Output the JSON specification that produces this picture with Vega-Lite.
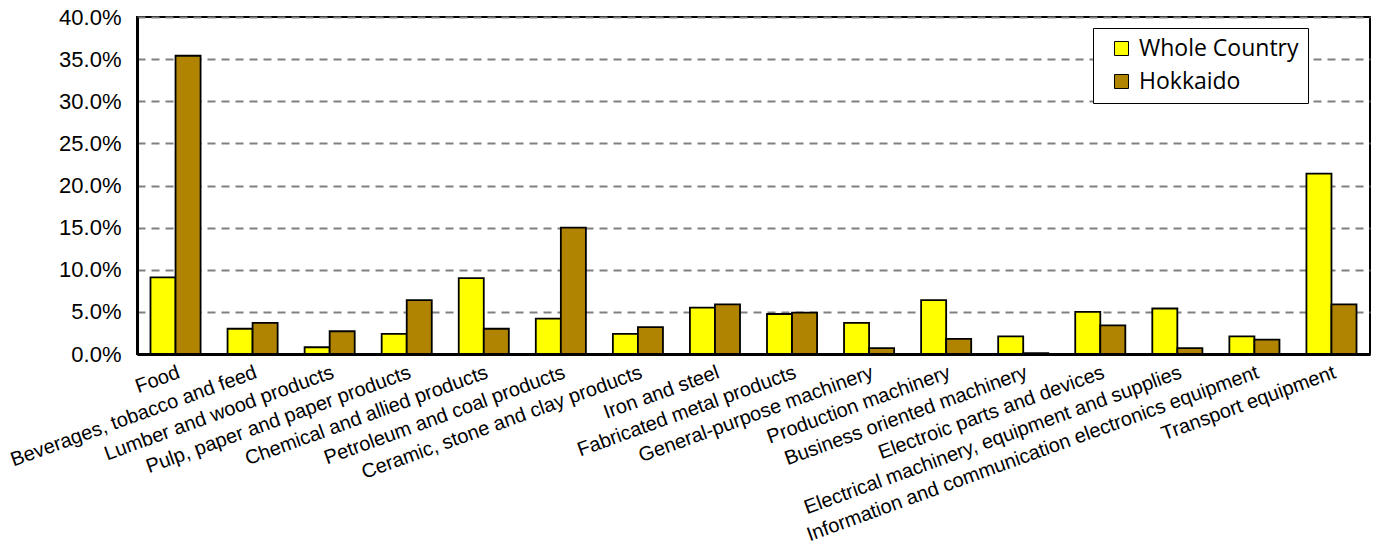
{
  "$schema": "https://vega.github.io/schema/vega-lite/v6.json",
  "width": 1233,
  "height": 337,
  "autosize": {"type": "none"},
  "padding": {"left": 137, "top": 17, "right": 11, "bottom": 195},
  "background": "white",
  "config": {
    "view": {"stroke": "black", "strokeWidth": 2},
    "font": "Liberation Sans"
  },
  "data": {
    "values": [
      {"industry": "Food", "region": "Whole Country", "share": 0.091},
      {"industry": "Food", "region": "Hokkaido", "share": 0.354},
      {"industry": "Beverages, tobacco and feed", "region": "Whole Country", "share": 0.030},
      {"industry": "Beverages, tobacco and feed", "region": "Hokkaido", "share": 0.037},
      {"industry": "Lumber and wood products", "region": "Whole Country", "share": 0.008},
      {"industry": "Lumber and wood products", "region": "Hokkaido", "share": 0.027},
      {"industry": "Pulp, paper and paper products", "region": "Whole Country", "share": 0.024},
      {"industry": "Pulp, paper and paper products", "region": "Hokkaido", "share": 0.064},
      {"industry": "Chemical and allied products", "region": "Whole Country", "share": 0.090},
      {"industry": "Chemical and allied products", "region": "Hokkaido", "share": 0.030},
      {"industry": "Petroleum and coal products", "region": "Whole Country", "share": 0.042},
      {"industry": "Petroleum and coal products", "region": "Hokkaido", "share": 0.150},
      {"industry": "Ceramic, stone and clay products", "region": "Whole Country", "share": 0.024},
      {"industry": "Ceramic, stone and clay products", "region": "Hokkaido", "share": 0.032},
      {"industry": "Iron and steel", "region": "Whole Country", "share": 0.055},
      {"industry": "Iron and steel", "region": "Hokkaido", "share": 0.059},
      {"industry": "Fabricated metal products", "region": "Whole Country", "share": 0.0475},
      {"industry": "Fabricated metal products", "region": "Hokkaido", "share": 0.049},
      {"industry": "General-purpose machinery", "region": "Whole Country", "share": 0.037},
      {"industry": "General-purpose machinery", "region": "Hokkaido", "share": 0.007},
      {"industry": "Production machinery", "region": "Whole Country", "share": 0.064},
      {"industry": "Production machinery", "region": "Hokkaido", "share": 0.018},
      {"industry": "Business oriented machinery", "region": "Whole Country", "share": 0.021},
      {"industry": "Business oriented machinery", "region": "Hokkaido", "share": 0.001},
      {"industry": "Electroic parts and devices", "region": "Whole Country", "share": 0.050},
      {"industry": "Electroic parts and devices", "region": "Hokkaido", "share": 0.034},
      {"industry": "Electrical machinery, equipment and supplies", "region": "Whole Country", "share": 0.054},
      {"industry": "Electrical machinery, equipment and supplies", "region": "Hokkaido", "share": 0.007},
      {"industry": "Information and communication electronics equipment", "region": "Whole Country", "share": 0.021},
      {"industry": "Information and communication electronics equipment", "region": "Hokkaido", "share": 0.017},
      {"industry": "Transport equipment", "region": "Whole Country", "share": 0.214},
      {"industry": "Transport equipment", "region": "Hokkaido", "share": 0.059}
    ]
  },
  "mark": {"type": "bar", "stroke": "black", "strokeWidth": 1.8},
  "encoding": {
    "x": {
      "field": "industry",
      "type": "nominal",
      "sort": null,
      "scale": {"paddingInner": 0.35, "paddingOuter": 0.175},
      "axis": {
        "title": null,
        "labelAngle": -20,
        "labelAlign": "right",
        "labelBaseline": "top",
        "labelPadding": 8,
        "labelFontSize": 20,
        "labelColor": "black",
        "labelLimit": 0,
        "ticks": false,
        "domainColor": "black",
        "domainWidth": 3,
        "grid": false
      }
    },
    "xOffset": {
      "field": "region",
      "type": "nominal",
      "sort": ["Whole Country", "Hokkaido"],
      "scale": {"paddingInner": 0, "paddingOuter": 0}
    },
    "y": {
      "field": "share",
      "type": "quantitative",
      "scale": {"domain": [0, 0.4], "nice": false},
      "axis": {
        "title": null,
        "format": ".1%",
        "values": [0, 0.05, 0.1, 0.15, 0.2, 0.25, 0.3, 0.35, 0.4],
        "labelFontSize": 22,
        "labelColor": "black",
        "labelPadding": 16,
        "ticks": false,
        "domainColor": "black",
        "domainWidth": 3,
        "grid": true,
        "gridColor": "#808080",
        "gridDash": [8, 6],
        "gridWidth": 2
      }
    },
    "color": {
      "field": "region",
      "type": "nominal",
      "sort": ["Whole Country", "Hokkaido"],
      "scale": {"domain": ["Whole Country", "Hokkaido"], "range": ["#FFFF00", "#B08400"]},
      "legend": {
        "title": null,
        "orient": "none",
        "legendX": 956,
        "legendY": 11,
        "direction": "vertical",
        "fillColor": "white",
        "strokeColor": "black",
        "padding": 9,
        "symbolType": "square",
        "symbolSize": 196,
        "symbolOffset": 8,
        "symbolStrokeColor": "black",
        "symbolStrokeWidth": 1,
        "symbolOpacity": 1,
        "labelFont": "Open Sans",
        "labelFontSize": 23,
        "labelColor": "black",
        "labelOffset": 6,
        "rowPadding": 9,
        "labelLimit": 0
      }
    }
  }
}
